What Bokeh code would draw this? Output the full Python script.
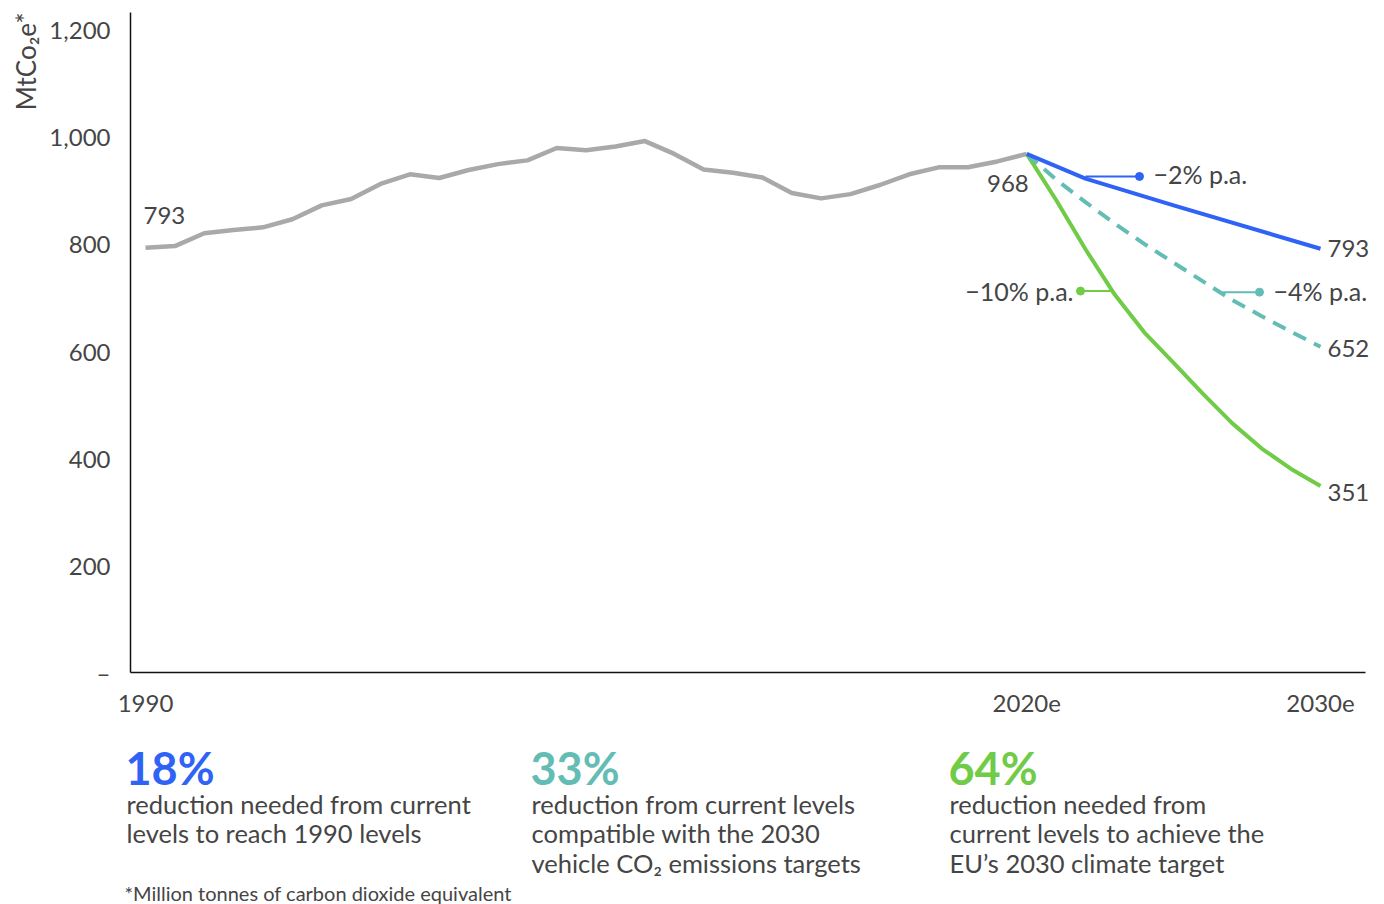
from bokeh.plotting import figure
from bokeh.layouts import column
from bokeh.models import Range1d, FixedTicker, Label, Title
from bokeh.embed import file_html
from bokeh.resources import INLINE
from bokeh.core.properties import value

# ---------------- data ----------------
hist_years = list(range(1990, 2021))
hist_values = [793, 796, 820, 826, 831, 846, 872, 884, 912, 930,
               923, 938, 949, 956, 979, 975, 982, 992, 968, 939,
               933, 924, 895, 885, 893, 910, 930, 943, 943, 954, 968]

blue_years = [2020, 2022, 2025, 2030]
blue_values = [968, 922, 872, 791]

proj_years = list(range(2020, 2031))
teal_values = [968, 920, 878, 838, 800, 765, 730, 695, 665, 636, 608]
green_values = [968, 882, 790, 705, 635, 578, 520, 465, 418, 380, 348]

y_ticks = [0, 200, 400, 600, 800, 1000, 1200]
y_tick_labels = ["–", "200", "400", "600", "800", "1,000", "1,200"]
x_ticks = [1990, 2020, 2030]
x_tick_labels = ["1990", "2020e", "2030e"]

y_title = "MtCo₂e*"
start_label = "793"
now_label = "968"
end_labels = ["793", "652", "351"]
rate_labels = ["−2% p.a.", "−4% p.a.", "−10% p.a."]
callout_y = [926, 710, 712]          # height of callout leaders

stats = ["18%", "33%", "64%"]
stat_texts = [
    ["reduction needed from current", "levels to reach 1990 levels"],
    ["reduction from current levels", "compatible with the 2030", "vehicle CO₂ emissions targets"],
    ["reduction needed from", "current levels to achieve the", "EU’s 2030 climate target"],
]
footnote = "*Million tonnes of carbon dioxide equivalent"

# ---------------- style ----------------
FONT = "Lato"
TXT = "#454545"
GRAY = "#a9a9a9"
BLUE = "#2f63f6"
TEAL = "#63bdb4"
GREEN = "#70cb47"

PXY = 29.375            # pixels per year
Y_TOP = 1232
TOP_H = 722
W = 1384


def px2x(px):
    return 1990 + (px - 145) / PXY


p = figure(width=W, height=TOP_H, output_backend="svg", toolbar_location=None,
           x_range=Range1d(px2x(130), px2x(W)), y_range=Range1d(0, Y_TOP),
           min_border_left=130, min_border_right=0, min_border_top=12,
           min_border_bottom=TOP_H - 672)
p.frame_align = False
p.grid.visible = False
p.outline_line_color = None
p.background_fill_color = "white"
p.border_fill_color = "white"

for ax in (p.xaxis[0], p.yaxis[0]):
    ax.axis_line_color = "#111111"
    ax.axis_line_width = 1.5
    ax.major_tick_line_color = None
    ax.minor_tick_line_color = None
    ax.major_tick_out = 0
    ax.major_tick_in = 0
    ax.major_label_text_font = FONT
    ax.major_label_text_color = TXT
    ax.major_label_text_font_size = "24px"
    ax.major_label_standoff = 20

p.yaxis.ticker = FixedTicker(ticks=y_ticks)
p.yaxis.major_label_overrides = {t: l for t, l in zip(y_ticks, y_tick_labels)}
p.yaxis.bounds = (0, Y_TOP)
p.xaxis.ticker = FixedTicker(ticks=x_ticks)
p.xaxis.major_label_overrides = {t: l for t, l in zip(x_ticks, x_tick_labels)}
p.xaxis.major_label_standoff = 22
p.xaxis.bounds = (px2x(130), px2x(1365))

p.add_layout(Title(text=y_title, align="right", text_font=FONT, text_font_size="26px",
                   text_font_style="normal", text_color=TXT), "left")

# ---------------- lines ----------------
p.line(hist_years, hist_values, line_color=GRAY, line_width=4.5, line_join="round")
p.line(proj_years, green_values, line_color=GREEN, line_width=4, line_join="round")
p.line(proj_years, teal_values, line_color=TEAL, line_width=4, line_dash="14 9")
p.line(blue_years, blue_values, line_color=BLUE, line_width=4, line_join="round")

# ---------------- callouts ----------------
def lab(x, y, text, xo, yo, align="left", size="24px", color=TXT):
    p.add_layout(Label(x=x, y=y, x_offset=xo, y_offset=yo, text=text, text_font=FONT,
                       text_font_size=size, text_color=color,
                       text_align=align, text_baseline="middle"))

# blue (-2%)
bx0 = blue_years[1]
bx1 = bx0 + 54 / PXY
p.segment(x0=[bx0], y0=[callout_y[0]], x1=[bx1], y1=[callout_y[0]], line_color=BLUE, line_width=2)
p.scatter([bx1], [callout_y[0]], size=8, color=BLUE)
lab(bx1, callout_y[0], rate_labels[0], 14, 2, size="25px")
# teal (-4%)
tx0 = px2x(1222)
tx1 = tx0 + 37 / PXY
p.segment(x0=[tx0], y0=[callout_y[1]], x1=[tx1], y1=[callout_y[1]], line_color=TEAL, line_width=2)
p.scatter([tx1], [callout_y[1]], size=8, color=TEAL)
lab(tx1, callout_y[1], rate_labels[1], 14, 1, size="25px")
# green (-10%)
gx0 = px2x(1113)
gx1 = gx0 - 33 / PXY
p.segment(x0=[gx0], y0=[callout_y[2]], x1=[gx1], y1=[callout_y[2]], line_color=GREEN, line_width=2)
p.scatter([gx1], [callout_y[2]], size=8, color=GREEN)
lab(gx1, callout_y[2], rate_labels[2], -7, 0, align="right", size="25px")

# ---------------- value labels ----------------
lab(hist_years[0], hist_values[0], start_label, -2, 32)
lab(hist_years[-1], hist_values[-1], now_label, 2, -30, align="right")
lab(blue_years[-1], blue_values[-1], end_labels[0], 7, 0)
lab(proj_years[-1], teal_values[-1], end_labels[1], 7, -2)
lab(proj_years[-1], green_values[-1], end_labels[2], 7, -6)

# ---------------- bottom statistics (second panel, pixel coordinates) ----------------
BOT_H = 904 - TOP_H
q = figure(width=W, height=BOT_H, output_backend="svg", toolbar_location=None,
           x_range=Range1d(0, W), y_range=Range1d(904, TOP_H),
           x_axis_location=None, y_axis_location=None, min_border=0)
q.frame_align = False
q.grid.visible = False
q.outline_line_color = None
q.border_fill_color = "white"

stat_colors = [BLUE, TEAL, GREEN]
stat_x = [125, 530, 948]
big_x, big_y, big_t, big_c = [], [], [], []
body_x, body_y, body_t = [], [], []
for sx, s, col, lines in zip(stat_x, stats, stat_colors, stat_texts):
    big_x.append(sx); big_y.append(767); big_t.append(s); big_c.append(col)
    for i, line in enumerate(lines):
        body_x.append(sx + 1); body_y.append(803 + 29.5 * i); body_t.append(line)

q.text(x=big_x, y=big_y, text=big_t, text_color=big_c, text_font=value(FONT),
       text_font_size="45px", text_font_style="bold", text_baseline="middle", text_align="left")
q.text(x=body_x, y=body_y, text=body_t, text_color=TXT, text_font=value(FONT),
       text_font_size="25.5px", text_baseline="middle", text_align="left")
q.text(x=[124], y=[892], text=[footnote], text_color=TXT, text_font=value(FONT),
       text_font_size="20px", text_baseline="middle", text_align="left")

open("out.html", "w").write(file_html(column(p, q, spacing=0), INLINE))
